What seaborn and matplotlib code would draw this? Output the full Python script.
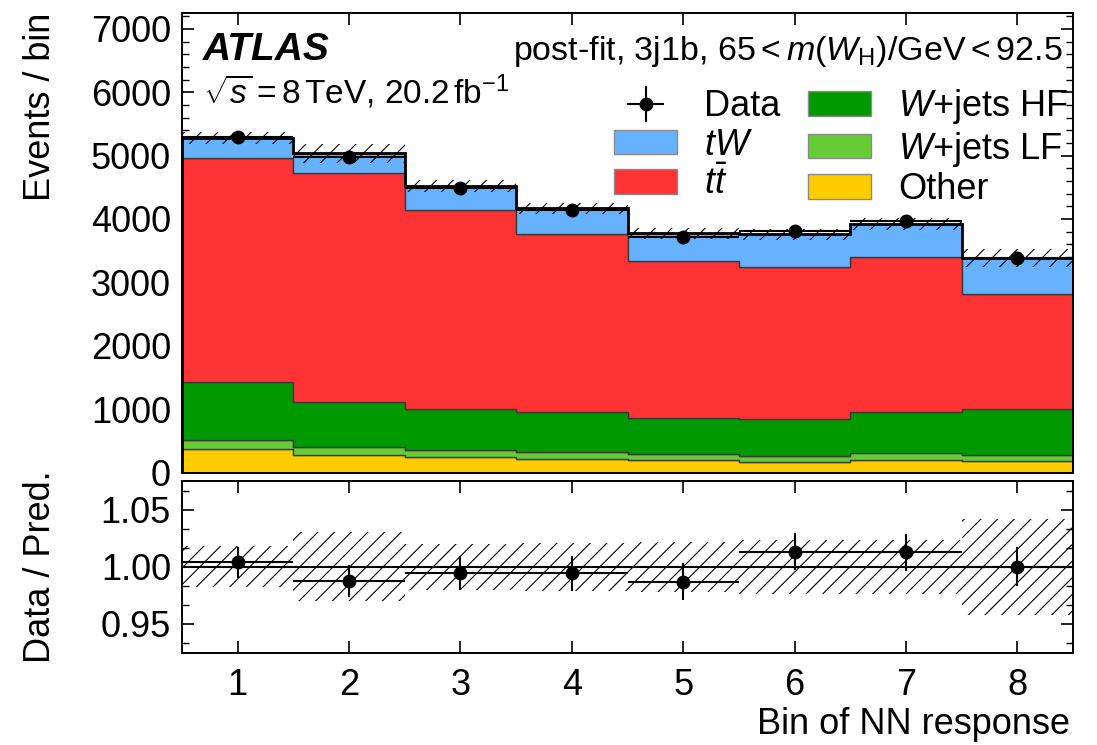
import numpy as np
import pandas as pd
import matplotlib
matplotlib.use("Agg")
import matplotlib.pyplot as plt
from matplotlib.patches import Patch
from matplotlib.ticker import MultipleLocator, FixedLocator, FormatStrFormatter
import seaborn as sns

# ---- post-fit yields per NN-response bin ----
bins = [1, 2, 3, 4, 5, 6, 7, 8]
other = [366, 272, 240, 208, 193, 166, 193, 186]
wjets_lf = [147, 126, 115, 111, 94, 90, 110, 86]
wjets_hf = [916, 710, 643, 641, 569, 593, 647, 726]
ttbar = [3540, 3615, 3146, 2805, 2487, 2390, 2447, 1824]
tw = [302, 316, 378, 403, 428, 521, 528, 569]
data = [5291, 4976, 4496, 4144, 3722, 3810, 3975, 3391]
# relative total uncertainty on the prediction
rel_unc = [0.018, 0.030, 0.020, 0.021, 0.022, 0.0235, 0.0235, 0.042]

process_names = ["tW", "ttbar", "W+jets HF", "W+jets LF", "Other"]
process_labels = [r"$tW$", r"$t\bar{t}$", r"$W$+jets HF", r"$W$+jets LF", "Other"]
process_colors = ["#66b2ff", "#ff3333", "#009900", "#66cc33", "#ffcc00"]

sns.set_theme(style="ticks")
plt.rcParams["font.family"] = ["Liberation Sans", "DejaVu Sans"]
plt.rcParams["mathtext.fontset"] = "custom"
plt.rcParams["mathtext.rm"] = "Liberation Sans"
plt.rcParams["mathtext.it"] = "Liberation Sans:italic"
plt.rcParams["mathtext.bf"] = "Liberation Sans:bold"
plt.rcParams["hatch.linewidth"] = 0.8
plt.rcParams["axes.linewidth"] = 1.4
for key in ["text.color", "axes.labelcolor", "axes.edgecolor",
            "xtick.color", "ytick.color"]:
    plt.rcParams[key] = "black"

FS = 26

edges = np.arange(0.5, len(bins) + 1.0, 1.0)
data_arr = np.array(data, dtype=float)
stack_vals = [tw, ttbar, wjets_hf, wjets_lf, other]
total = np.sum(np.array(stack_vals, dtype=float), axis=0)
unc = np.array(rel_unc)

long_df = pd.concat(
    [pd.DataFrame({"bin": bins, "events": vals, "process": name})
     for name, vals in zip(process_names, stack_vals)],
    ignore_index=True,
)

fig = plt.figure(figsize=(10.97, 7.45), dpi=100)
W, H = 1097.0, 745.0
x0, x1 = 182.0, 1073.0
ax = fig.add_axes([x0 / W, 1 - 472.5 / H, (x1 - x0) / W, (472.5 - 13.0) / H])
axr = fig.add_axes([x0 / W, 1 - 652.5 / H, (x1 - x0) / W, (652.5 - 481.0) / H])

# stacked backgrounds (last hue level sits at the bottom of the stack)
sns.histplot(
    data=long_df, x="bin", weights="events", hue="process",
    hue_order=process_names, palette=dict(zip(process_names, process_colors)),
    multiple="stack", element="step", binwidth=1, binrange=(0.5, 8.5),
    fill=True, alpha=1, edgecolor="#3a3a3a", linewidth=1.0, legend=False, ax=ax,
)

# total prediction and its uncertainty band
ax.stairs(total * (1 + unc), edges, baseline=total * (1 - unc), fill=True,
          facecolor="none", edgecolor="black", hatch="//", linewidth=0, zorder=4)
ax.stairs(total, edges, color="black", linewidth=2.0, zorder=5)

ax.errorbar(bins, data_arr, yerr=np.sqrt(data_arr), xerr=0.5, fmt="o",
            color="black", ms=9, elinewidth=1.5, capsize=0, zorder=6)

ax.set_xlim(0.5, 8.5)
ax.set_ylim(0, 7250)
ax.set_xlabel("")
ax.set_ylabel("Events / bin", fontsize=FS, loc="top")
ax.yaxis.set_label_coords(-0.139, 1.0)
ax.yaxis.set_major_locator(MultipleLocator(1000))
ax.yaxis.set_minor_locator(MultipleLocator(200))
ax.xaxis.set_major_locator(FixedLocator(bins))
ax.tick_params(axis="both", which="both", direction="in", top=True, right=True,
               labelsize=FS)
ax.tick_params(axis="both", which="major", length=8.5, width=1.2)
ax.tick_params(axis="y", which="minor", length=5, width=1.0)
ax.tick_params(axis="y", which="major", pad=8)
ax.tick_params(axis="x", labelbottom=False)

# ratio panel
ratio = data_arr / total
ratio_err = np.sqrt(data_arr) / total
axr.stairs(1 + unc, edges, baseline=1 - unc, fill=True, facecolor="none",
           edgecolor="black", hatch="//", linewidth=0, zorder=2)
axr.axhline(1.0, color="black", linewidth=1.5, zorder=3)
data_handle = axr.errorbar(bins, ratio, yerr=ratio_err, xerr=0.5, fmt="o",
                           color="black", ms=9, elinewidth=1.5, capsize=0,
                           zorder=4)
axr.set_xlim(0.5, 8.5)
axr.set_ylim(0.925, 1.075)
axr.yaxis.set_major_locator(FixedLocator([0.95, 1.00, 1.05]))
axr.yaxis.set_major_formatter(FormatStrFormatter("%.2f"))
axr.yaxis.set_minor_locator(MultipleLocator(0.05 / 3))
axr.xaxis.set_major_locator(FixedLocator(bins))
axr.tick_params(axis="both", which="both", direction="in", top=True, right=True,
                labelsize=FS)
axr.tick_params(axis="both", which="major", length=8.5, width=1.2)
axr.tick_params(axis="y", which="minor", length=5, width=1.0)
axr.tick_params(axis="y", which="major", pad=8)
axr.tick_params(axis="x", which="major", pad=11)
axr.set_ylabel("Data / Pred.", fontsize=FS)
axr.yaxis.set_label_coords(-0.139, 0.5)
axr.set_xlabel("Bin of NN response", fontsize=FS, loc="right")
axr.xaxis.set_label_coords(0.997, -0.32)

# annotations
ax.text(0.0236, 0.898, "ATLAS", transform=ax.transAxes, fontsize=28,
        fontweight="bold", fontstyle="italic", va="baseline", ha="left")
ax.text(0.0236, 0.802, r"$\sqrt{s}=8\,$TeV, 20.2$\,$fb$^{-1}$",
        transform=ax.transAxes, fontsize=24, va="baseline", ha="left")
ax.text(0.9888, 0.898,
        r"post-fit, 3j1b, $65 < m(W_{\mathrm{H}})/\mathrm{GeV} < 92.5$",
        transform=ax.transAxes, fontsize=24.5, va="baseline", ha="right")

# legend: data first, then the backgrounds top-to-bottom
handles = [data_handle] + [
    Patch(facecolor=c, edgecolor="#8a8a8a", linewidth=1.0) for c in process_colors
]
labels = ["Data"] + process_labels
ax.legend(handles, labels, ncol=2, loc="upper left",
          bbox_to_anchor=(0.4848, 0.838), frameon=False, fontsize=FS,
          handlelength=1.75, handleheight=0.68, handletextpad=0.75,
          columnspacing=0.75, labelspacing=0.09, borderpad=0, borderaxespad=0)

fig.savefig("out.png", dpi=100)
